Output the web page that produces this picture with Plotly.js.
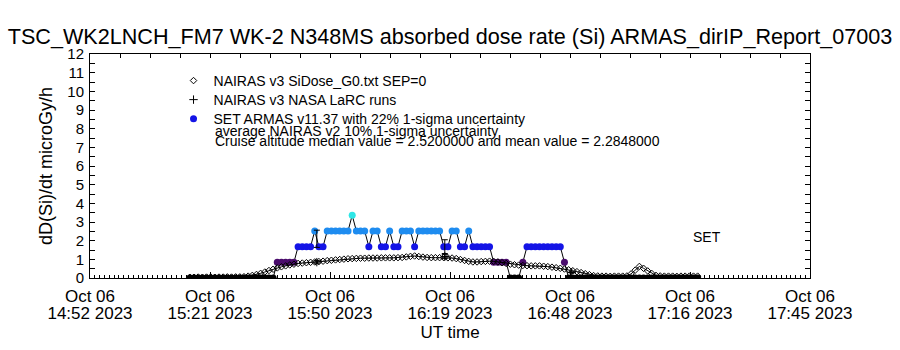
<!DOCTYPE html>
<html>
<head>
<meta charset="utf-8">
<script src="https://cdn.plot.ly/plotly-3.0.1.min.js"></script>
<style>html,body{margin:0;padding:0;background:#fff;}#chart{width:900px;height:350px;}</style>
</head>
<body>
<div id="chart"></div>
<script>
// ---- data ----
const DAY = "2023-10-06";
const TIMES = ["15:16","15:17","15:18","15:19","15:20","15:21","15:22","15:23","15:24","15:25","15:26","15:27","15:28","15:29","15:30","15:31","15:32","15:33","15:34","15:35","15:36","15:37","15:38","15:39","15:40","15:41","15:42","15:43","15:44","15:45","15:46","15:47","15:48","15:49","15:50","15:51","15:52","15:53","15:54","15:55","15:56","15:57","15:58","15:59",
"16:00","16:01","16:02","16:03","16:04","16:05","16:06","16:07","16:08","16:09","16:10","16:11","16:12","16:13","16:14","16:15","16:16","16:17","16:18","16:19","16:20","16:21","16:22","16:23","16:24","16:25","16:26","16:27","16:28","16:29","16:30","16:31","16:32","16:33","16:34","16:35","16:36","16:37","16:38","16:39","16:40","16:41","16:42","16:43","16:44","16:45","16:46","16:47","16:48","16:49","16:50","16:51","16:52","16:53","16:54","16:55","16:56","16:57","16:58","16:59",
"17:00","17:01","17:02","17:03","17:04","17:05","17:06","17:07","17:08","17:09","17:10","17:11","17:12","17:13","17:14","17:15","17:16","17:17","17:18"];

// NAIRAS v3 SiDose_G0 (microGy/h)
const NAIRAS_G0 = [0.04,0.04,0.05,0.04,0.05,0.05,0.04,0.05,0.05,0.06,0.05,0.06,0.06,
0.07,0.10,0.14,0.19,0.25,0.32,0.40,0.47,0.54,0.60,0.65,0.70,0.74,
0.78,0.80,0.82,0.84,0.86,0.88,0.90,0.93,0.95,0.97,0.99,1.01,1.03,
1.04,1.05,1.06,1.06,1.07,1.07,1.07,1.08,1.08,1.08,1.08,1.09,1.10,
1.13,1.16,1.18,1.15,1.12,1.10,1.09,1.09,1.09,1.09,1.08,1.07,1.04,
0.99,0.94,0.89,0.86,0.86,0.88,0.89,0.90,0.89,0.86,0.82,0.78,0.74,
0.71,0.69,0.67,0.66,0.65,0.65,0.65,0.63,0.61,0.58,0.55,0.52,0.48,
0.44,0.39,0.34,0.29,0.23,0.18,0.13,0.11,0.10,0.10,0.09,0.10,0.10,
0.10,0.11,0.22,0.42,0.62,0.52,0.38,0.24,0.14,0.11,0.10,0.10,0.10,
0.09,0.10,0.10,0.10,0.10,0.10];

// SET ARMAS v11.37 (microGy/h)
const ARMAS = [0,0,0,0,0,0,0,0,0,0,0,0,0,0,0,0,0,0,0,0,0,
0.84,0.84,0.84,0.84,0.84,
1.68,1.68,1.68,1.68,
2.52,
1.68,1.68,
2.52,2.52,2.52,2.52,2.52,2.52,
3.36,
2.52,2.52,2.52,
1.68,
2.52,2.52,
1.68,1.68,
2.52,
1.68,1.68,
2.52,2.52,2.52,
1.68,
2.52,2.52,2.52,2.52,2.52,2.52,
1.68,1.68,
2.52,2.52,
1.68,1.68,
2.52,
1.68,1.68,1.68,1.68,1.68,
0.84,0.84,0.84,0.84,
0,0,0,
0.84,
1.68,1.68,1.68,1.68,1.68,1.68,1.68,1.68,1.68,
0.84,
0,0,0,0,0,0,0,0,0,0,0,0,0,0,0,0,0,0,0,0,0,0,0,0,0,0,0,0,0,0,0,0];

// NAIRAS v3 NASA LaRC runs and ARMAS values at the same times
const LARC_TIMES = ["15:46:30","16:17:15","16:47:45"];
const LARC_DOSE = [0.85,1.15,0.30];
const ARMAS_AT_LARC = [2.10,1.68,0.00];

const X_TICK_TIMES = ["14:52:00","15:20:50","15:49:40","16:18:30","16:47:20","17:16:10","17:45:00"];
const X_TICK_DATES = ["Oct 06","Oct 06","Oct 06","Oct 06","Oct 06","Oct 06","Oct 06"];
const X_TICK_CLOCK = ["14:52 2023","15:21 2023","15:50 2023","16:19 2023","16:48 2023","17:16 2023","17:45 2023"];
const X_RANGE = ["14:52:00","17:45:00"];

const TITLE = "TSC_WK2LNCH_FM7 WK-2 N348MS absorbed dose rate (Si) ARMAS_dirIP_Report_07003";
const LEGEND_NAMES = ["NAIRAS v3 SiDose_G0.txt SEP=0", "NAIRAS v3 NASA LaRC runs",
  "SET ARMAS v11.37 with 22% 1-sigma uncertainty"];
const STATS_LINES = ["average NAIRAS v2 10% 1-sigma uncertainty",
  "Cruise altitude median value = 2.5200000 and mean value = 2.2848000"];

// ---- drawing ----
const FONT = "Liberation Sans, Arial, sans-serif";
const ts = t => DAY + " " + (t.length === 5 ? t + ":00" : t);
const xs = TIMES.map(ts);
function levelColor(v) {
  if (v <= 0) return "#000000";
  if (v < 1) return "#4a0c6c";
  if (v < 2) return "#1414e6";
  if (v < 3) return "#1e8cf0";
  return "#2ee6e6";
}
const diamondMarker = { symbol: "diamond-open", size: 5, color: "#000", line: { width: 1, color: "#000" } };
const plusMarker = { symbol: "cross-thin-open", size: 6, color: "#000", line: { width: 1, color: "#000" } };

const traces = [
  { x: xs, y: ARMAS, type: "scatter", mode: "lines+markers", showlegend: false,
    line: { color: "#000", width: 1 },
    marker: { symbol: "circle", size: 7, color: ARMAS.map(levelColor), line: { width: 0 } } },
  { x: xs, y: NAIRAS_G0, type: "scatter", mode: "lines+markers", showlegend: false,
    line: { color: "#000", width: 1 }, marker: diamondMarker },
  { x: LARC_TIMES.map(ts), y: ARMAS_AT_LARC, xaxis: "x2", type: "scatter", mode: "markers", showlegend: false,
    marker: { size: 1, color: "rgba(0,0,0,0)" },
    error_y: { type: "percent", value: 22, color: "#000", thickness: 1, width: 3 } },
  { x: LARC_TIMES.map(ts), y: LARC_DOSE, xaxis: "x3", type: "scatter", mode: "markers", showlegend: false,
    marker: plusMarker,
    error_y: { type: "percent", value: 10, color: "#000", thickness: 1, width: 3 } },
  // legend entries
  { x: [null], y: [null], type: "scatter", mode: "markers", name: LEGEND_NAMES[0], legend: "legend", marker: diamondMarker },
  { x: [null], y: [null], type: "scatter", mode: "markers", name: LEGEND_NAMES[1], legend: "legend2", marker: plusMarker },
  { x: [null], y: [null], type: "scatter", mode: "markers", name: LEGEND_NAMES[2], legend: "legend3",
    marker: { symbol: "circle", size: 7, color: "#1414e6" } }
];

const xr = X_RANGE.map(ts);
const tv = X_TICK_TIMES.map(ts);
const legendBase = (y) => ({
  x: 0.116, y: y, xanchor: "left", yanchor: "top",
  bgcolor: "rgba(0,0,0,0)", borderwidth: 0,
  font: { family: FONT, size: 14, color: "#000" }, itemwidth: 30
});

const layout = {
  width: 900, height: 350,
  margin: { l: 90, r: 90, t: 54, b: 72, pad: 0 },
  paper_bgcolor: "#fff", plot_bgcolor: "#fff",
  font: { family: FONT, color: "#000", size: 14 },
  showlegend: true,
  title: { text: TITLE, font: { family: FONT, size: 21.6, color: "#000" }, x: 0.5, xanchor: "center", y: 0.895, yanchor: "middle" },
  xaxis: {
    type: "date", range: xr, tickmode: "array", tickvals: tv, ticktext: X_TICK_DATES,
    ticks: "inside", ticklen: 6, tickwidth: 1, tickcolor: "#000",
    showline: true, linecolor: "#000", linewidth: 1, mirror: true,
    showgrid: false, zeroline: false, fixedrange: true,
    tickfont: { family: FONT, size: 17, color: "#000" }, ticklabelstandoff: 3,
    minor: { tickmode: "linear", tick0: ts("14:52:00"), dtick: 69200, ticks: "inside", ticklen: 3, tickcolor: "#000", tickwidth: 1, showgrid: false }
  },
  xaxis2: {
    type: "date", range: xr, overlaying: "x", side: "top", anchor: "y",
    tickmode: "linear", tick0: ts("14:52:00"), dtick: 432500,
    ticks: "inside", ticklen: 4, tickcolor: "#000", showticklabels: false,
    showline: false, showgrid: false, zeroline: false, fixedrange: true
  },
  xaxis3: {
    type: "date", range: xr, overlaying: "x", side: "bottom", anchor: "y",
    tickmode: "array", tickvals: tv, ticktext: X_TICK_CLOCK,
    ticks: "", showline: false, showgrid: false, zeroline: false, fixedrange: true,
    tickfont: { family: FONT, size: 17, color: "#000" }, ticklabelstandoff: 23,
    title: { text: "UT time", font: { family: FONT, size: 17, color: "#000" }, standoff: 4 }
  },
  yaxis: {
    range: [0, 12], tickmode: "linear", tick0: 0, dtick: 1,
    ticks: "inside", ticklen: 5, tickcolor: "#000", tickwidth: 1,
    showline: true, linecolor: "#000", linewidth: 1, mirror: "ticks",
    showgrid: false, zeroline: false, fixedrange: true,
    tickfont: { family: FONT, size: 15, color: "#000" }, ticklabelstandoff: 2,
    minor: { tickmode: "linear", tick0: 0.5, dtick: 1, ticks: "inside", ticklen: 5, tickcolor: "#000", showgrid: false },
    title: { text: "dD(Si)/dt microGy/h", font: { family: FONT, size: 18, color: "#000" }, standoff: 10 }
  },
  legend: legendBase(0.951),
  legend2: legendBase(0.866),
  legend3: legendBase(0.781),
  annotations: [
    { xref: "paper", yref: "paper", x: 0.171, y: 0.656, xanchor: "left", yanchor: "middle", showarrow: false,
      text: STATS_LINES[0], font: { family: FONT, size: 14, color: "#000" } },
    { xref: "paper", yref: "paper", x: 0.171, y: 0.612, xanchor: "left", yanchor: "middle", showarrow: false,
      text: STATS_LINES[1], font: { family: FONT, size: 14, color: "#000" } },
    { xref: "paper", yref: "paper", x: 0.857, y: 0.183, xanchor: "center", yanchor: "middle", showarrow: false,
      text: "SET", font: { family: FONT, size: 14, color: "#000" } }
  ]
};

Plotly.newPlot("chart", traces, layout, { staticPlot: true, displayModeBar: false });
</script>
</body>
</html>
